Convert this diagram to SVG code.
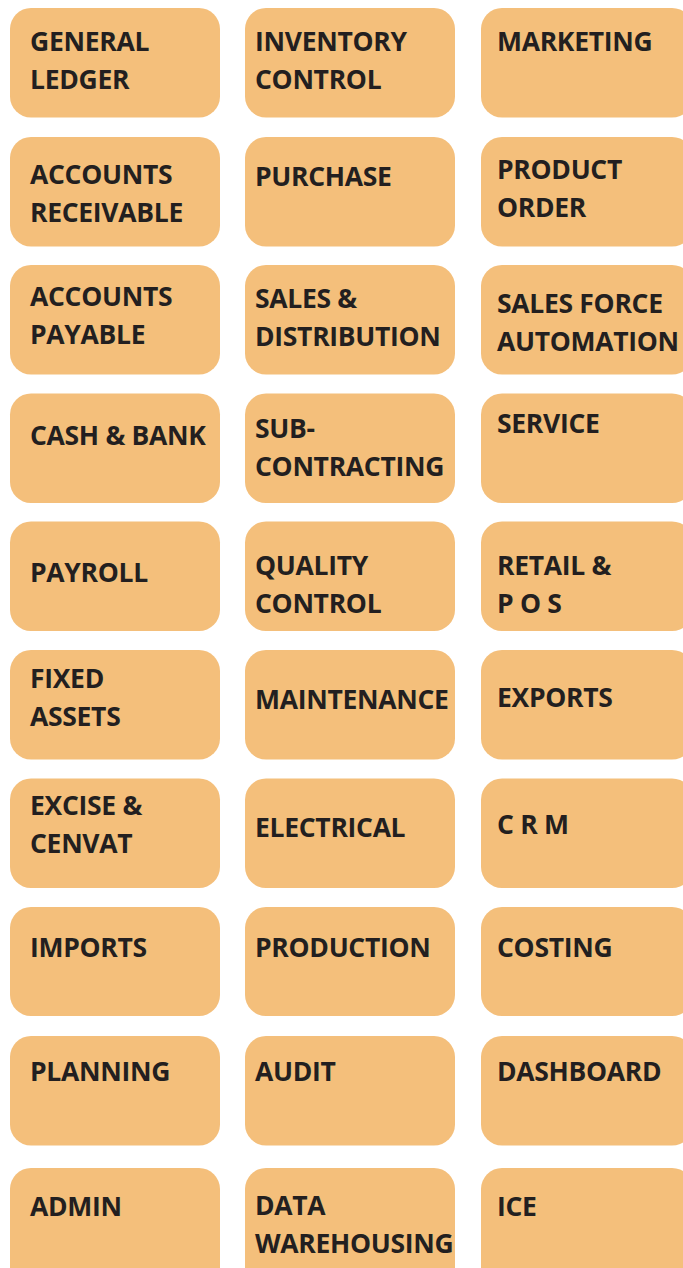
<svg xmlns="http://www.w3.org/2000/svg" width="683" height="1268" viewBox="0 0 683 1268">
<style>
.b{fill:#F4BF7B}
.t{font-family:"Open Sans","Noto Sans","Liberation Sans",sans-serif;font-weight:700;font-size:26.5px;letter-spacing:-0.3px;fill:#231F20}
</style>
<rect width="683" height="1268" fill="#ffffff"/>
<g id="general-ledger"><rect class="b" x="10" y="8" width="210" height="109.5" rx="21"/><text class="t" x="30" y="51">GENERAL</text><text class="t" x="30" y="89">LEDGER</text></g>
<g id="inventory-control"><rect class="b" x="245" y="8" width="210" height="109.5" rx="21"/><text class="t" x="255" y="51">INVENTORY</text><text class="t" x="255" y="89">CONTROL</text></g>
<g id="marketing"><rect class="b" x="481" y="8" width="212" height="109.5" rx="21"/><text class="t" x="497" y="51">MARKETING</text></g>

<g id="accounts-receivable"><rect class="b" x="10" y="137" width="210" height="109.5" rx="21"/><text class="t" x="30" y="184">ACCOUNTS</text><text class="t" x="30" y="222">RECEIVABLE</text></g>
<g id="purchase"><rect class="b" x="245" y="137" width="210" height="109.5" rx="21"/><text class="t" x="255" y="186">PURCHASE</text></g>
<g id="product-order"><rect class="b" x="481" y="137" width="212" height="109.5" rx="21"/><text class="t" x="497" y="179">PRODUCT</text><text class="t" x="497" y="217">ORDER</text></g>

<g id="accounts-payable"><rect class="b" x="10" y="265" width="210" height="109.5" rx="21"/><text class="t" x="30" y="306">ACCOUNTS</text><text class="t" x="30" y="344">PAYABLE</text></g>
<g id="sales-distribution"><rect class="b" x="245" y="265" width="210" height="109.5" rx="21"/><text class="t" x="255" y="307.5">SALES &amp;</text><text class="t" x="255" y="346">DISTRIBUTION</text></g>
<g id="sales-force-automation"><rect class="b" x="481" y="265" width="212" height="109.5" rx="21"/><text class="t" x="497" y="313">SALES FORCE</text><text class="t" x="497" y="351">AUTOMATION</text></g>

<g id="cash-bank"><rect class="b" x="10" y="393.5" width="210" height="109.5" rx="21"/><text class="t" x="30" y="444.5">CASH &amp; BANK</text></g>
<g id="sub-contracting"><rect class="b" x="245" y="393.5" width="210" height="109.5" rx="21"/><text class="t" x="255" y="437.5">SUB-</text><text class="t" x="255" y="475.5">CONTRACTING</text></g>
<g id="service"><rect class="b" x="481" y="393.5" width="212" height="109.5" rx="21"/><text class="t" x="497" y="433">SERVICE</text></g>

<g id="payroll"><rect class="b" x="10" y="521.5" width="210" height="109.5" rx="21"/><text class="t" x="30" y="582">PAYROLL</text></g>
<g id="quality-control"><rect class="b" x="245" y="521.5" width="210" height="109.5" rx="21"/><text class="t" x="255" y="574.5">QUALITY</text><text class="t" x="255" y="612.5">CONTROL</text></g>
<g id="retail-pos"><rect class="b" x="481" y="521.5" width="212" height="109.5" rx="21"/><text class="t" x="497" y="574.5">RETAIL &amp;</text><text class="t" x="497" y="612.5">P O S</text></g>

<g id="fixed-assets"><rect class="b" x="10" y="650" width="210" height="109.5" rx="21"/><text class="t" x="30" y="687.5">FIXED</text><text class="t" x="30" y="725.5">ASSETS</text></g>
<g id="maintenance"><rect class="b" x="245" y="650" width="210" height="109.5" rx="21"/><text class="t" x="255" y="709">MAINTENANCE</text></g>
<g id="exports"><rect class="b" x="481" y="650" width="212" height="109.5" rx="21"/><text class="t" x="497" y="707">EXPORTS</text></g>

<g id="excise-cenvat"><rect class="b" x="10" y="778.5" width="210" height="109.5" rx="21"/><text class="t" x="30" y="815">EXCISE &amp;</text><text class="t" x="30" y="853">CENVAT</text></g>
<g id="electrical"><rect class="b" x="245" y="778.5" width="210" height="109.5" rx="21"/><text class="t" x="255" y="837">ELECTRICAL</text></g>
<g id="crm"><rect class="b" x="481" y="778.5" width="212" height="109.5" rx="21"/><text class="t" x="497" y="834">C R M</text></g>

<g id="imports"><rect class="b" x="10" y="907" width="210" height="109" rx="21"/><text class="t" x="30" y="957">IMPORTS</text></g>
<g id="production"><rect class="b" x="245" y="907" width="210" height="109" rx="21"/><text class="t" x="255" y="957">PRODUCTION</text></g>
<g id="costing"><rect class="b" x="481" y="907" width="212" height="109" rx="21"/><text class="t" x="497" y="957">COSTING</text></g>

<g id="planning"><rect class="b" x="10" y="1036" width="210" height="109.5" rx="21"/><text class="t" x="30" y="1081">PLANNING</text></g>
<g id="audit"><rect class="b" x="245" y="1036" width="210" height="109.5" rx="21"/><text class="t" x="255" y="1081">AUDIT</text></g>
<g id="dashboard"><rect class="b" x="481" y="1036" width="212" height="109.5" rx="21"/><text class="t" x="497" y="1081">DASHBOARD</text></g>

<g id="admin"><rect class="b" x="10" y="1168" width="210" height="120" rx="21"/><text class="t" x="30" y="1216">ADMIN</text></g>
<g id="data-warehousing"><rect class="b" x="245" y="1168" width="210" height="120" rx="21"/><text class="t" x="255" y="1215">DATA</text><text class="t" x="255" y="1252.5">WAREHOUSING</text></g>
<g id="ice"><rect class="b" x="481" y="1168" width="212" height="120" rx="21"/><text class="t" x="497" y="1216">ICE</text></g>
</svg>
